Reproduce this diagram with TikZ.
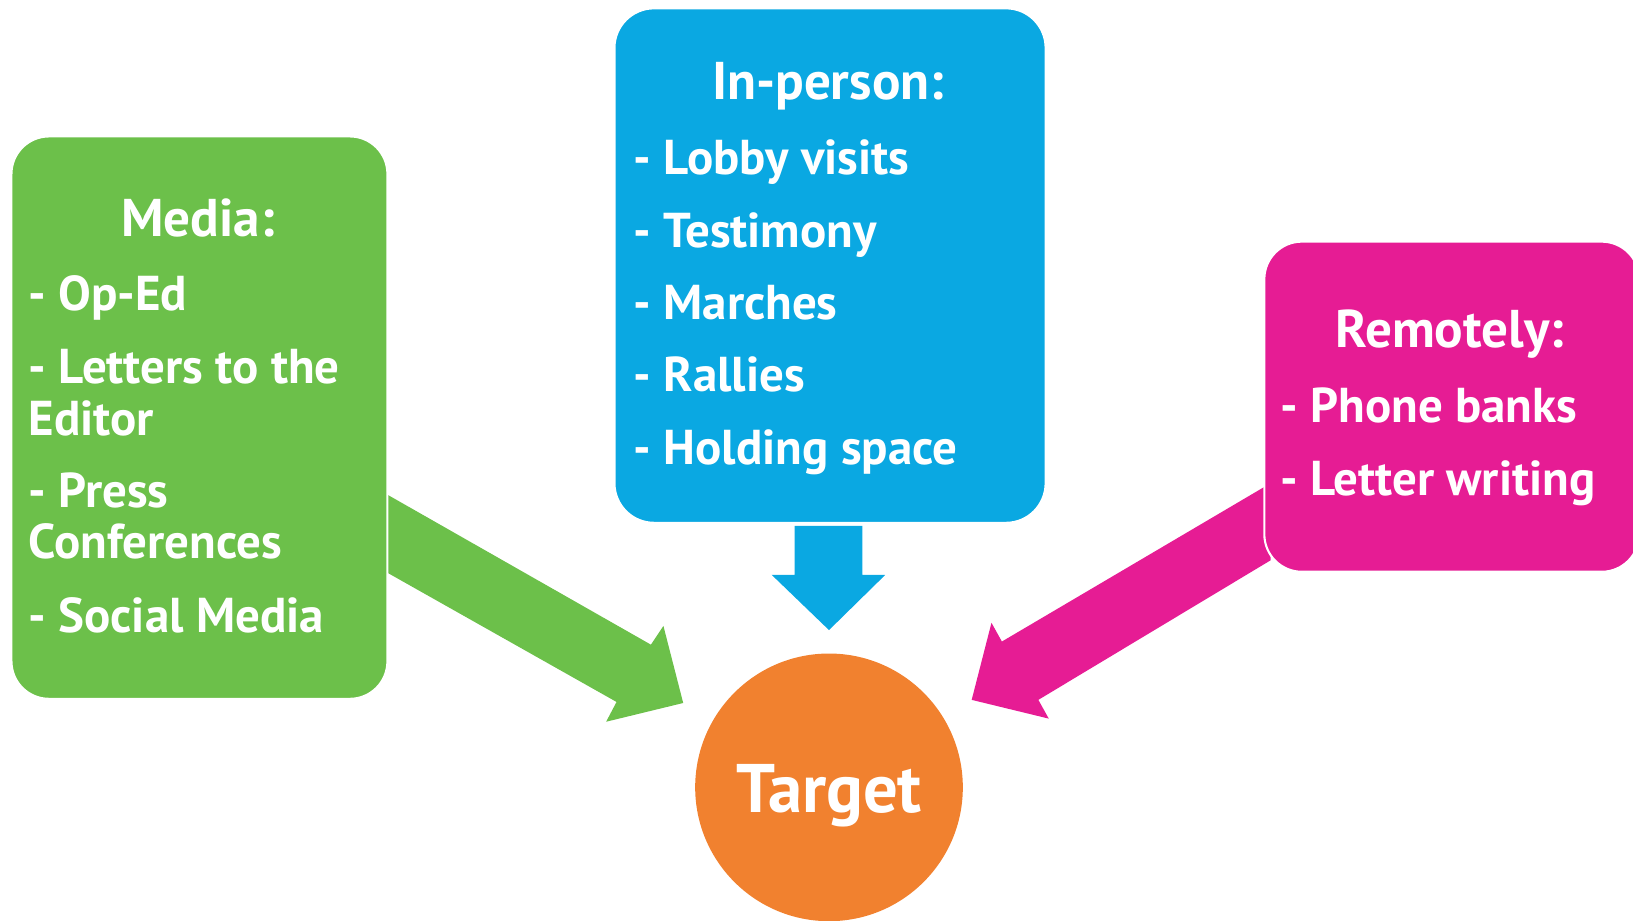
\documentclass[tikz,border=0pt]{standalone}
\usepackage{fontspec}
\setmainfont{PT Sans}
\definecolor{cgreen}{RGB}{108,192,74}
\definecolor{cblue}{RGB}{10,168,226}
\definecolor{cpink}{RGB}{230,28,148}
\definecolor{corange}{RGB}{241,129,47}
\begin{document}
\begin{tikzpicture}[x=0.5pt,y=-0.5pt,
  box/.style={rectangle, rounded corners=18pt, draw=white, line width=1pt,
    anchor=north west, inner sep=0pt},
  ttl/.style={text=white, inner sep=0pt, anchor=base, font=\fontsize{25.5pt}{30pt}\selectfont\bfseries},
  itm/.style={text=white, inner sep=0pt, anchor=base west, font=\fontsize{23.5pt}{28pt}\selectfont\bfseries}]
\useasboundingbox (0,0) rectangle (1568,884);
% arrows
\fill[cgreen] (365,471) -- (625,619) -- (637,601) -- (656,675) -- (582,693) -- (592,674) -- (365,546) -- cycle;
\fill[cpink] (1220,464) -- (962,616) -- (952,598) -- (933,672) -- (1007,690) -- (997,672) -- (1220,538) -- cycle;
\fill[cblue] (763,505) -- (828,505) -- (828,552) -- (850,552) -- (796,605) -- (741,552) -- (763,552) -- cycle;
% boxes
\node[box, fill=cgreen, minimum width=180.5pt, minimum height=270pt] (media) at (10,130) {};
\node[box, fill=cblue, rounded corners=19pt, minimum width=207pt, minimum height=247pt] (inperson) at (589,7) {};
\node[box, fill=cpink, minimum width=180pt, minimum height=158.5pt] (remote) at (1213,231) {};
\node[circle, fill=corange, minimum size=128.5pt, inner sep=0pt] (target) at (796,756) {};
\node[text=white, inner sep=0pt, anchor=base, font=\fontsize{33pt}{40pt}\selectfont\bfseries] (tt) at (796,780) {Target};
% media text
\node[ttl] (mt) at (190,227) {Media:};
\node[itm] (m1) at (27,298) {- Op-Ed};
\node[itm] (m2) at (27,368) {- Letters to the};
\node[itm] (m3) at (27,418) {Editor};
\node[itm] (m4) at (27,487) {- Press};
\node[itm] (m5) at (27,536) {Conferences};
\node[itm] (m6) at (27,607) {- Social Media};
% in-person text
\node[ttl] (it) at (795,96) {In-person:};
\node[itm] (i1) at (608,168) {- Lobby visits};
\node[itm] (i2) at (608,238) {- Testimony};
\node[itm] (i3) at (608,307) {- Marches};
\node[itm] (i4) at (608,376) {- Rallies};
\node[itm] (i5) at (608,446) {- Holding space};
% remote text
\node[ttl] (rt) at (1392,334) {Remotely:};
\node[itm] (r1) at (1229,406) {- Phone banks};
\node[itm] (r2) at (1229,476) {- Letter writing};
\end{tikzpicture}
\end{document}
